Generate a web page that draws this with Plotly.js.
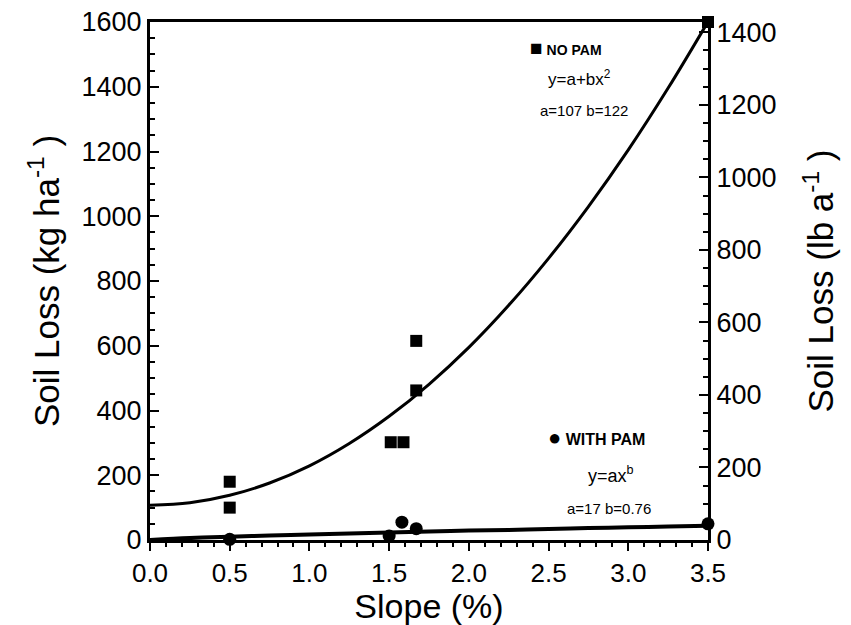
<!DOCTYPE html>
<html>
<head>
<meta charset="utf-8">
<script src="https://cdn.plot.ly/plotly-3.0.1.min.js"></script>
<style>body{margin:0;background:#fff}#plot{width:851px;height:625px}</style>
</head>
<body>
<div id="plot"></div>
<script>
// Fitted curves
var curveX = [0.0, 0.25, 0.5, 0.75, 1.0, 1.25, 1.5, 1.75, 2.0, 2.25, 2.5, 2.75, 3.0, 3.25, 3.5];
var noPamCurve = [107, 115, 138, 176, 229, 298, 382, 481, 595, 725, 870, 1030, 1205, 1396, 1601];
var withPamCurve = [0, 6, 10, 14, 17, 20, 23, 26, 29, 31, 34, 37, 39, 42, 44];

// Observed points
var noPamX = [0.5, 0.5, 1.51, 1.59, 1.67, 1.67, 3.5];
var noPamY = [180, 100, 302, 302, 615, 462, 1600];
var withPamX = [0.5, 1.5, 1.58, 1.67, 3.5];
var withPamY = [2, 12, 55, 35, 50];

var xTicks = [0, 0.5, 1.0, 1.5, 2.0, 2.5, 3.0, 3.5];
var xTickText = ['0.0', '0.5', '1.0', '1.5', '2.0', '2.5', '3.0', '3.5'];
var kgPerLb = 1.12;

var font = 'Liberation Sans, Arial, sans-serif';

var traces = [
  {x: curveX, y: noPamCurve, mode: 'lines', line: {color: '#000', width: 3, shape: 'spline'}, hoverinfo: 'skip'},
  {x: curveX, y: withPamCurve, mode: 'lines', line: {color: '#000', width: 4, shape: 'spline'}, hoverinfo: 'skip'},
  {x: noPamX, y: noPamY, mode: 'markers', marker: {symbol: 'square', size: 12, color: '#000'}, cliponaxis: false},
  {x: withPamX, y: withPamY, mode: 'markers', marker: {symbol: 'circle', size: 13, color: '#000'}, cliponaxis: false},
  {x: [3.5], y: [0], yaxis: 'y2', mode: 'markers', marker: {opacity: 0}, hoverinfo: 'skip'}
];

// pixel helpers for annotation placement inside plot area (l=150..708, t=22..540)
function px(x) { return (x - 150) / 558; }
function py(y) { return (540 - y) / 518; }

var layout = {
  width: 851, height: 625,
  margin: {l: 150, r: 143, t: 22, b: 85},
  paper_bgcolor: '#fff', plot_bgcolor: '#fff',
  showlegend: false,
  font: {family: font, color: '#000'},
  xaxis: {
    range: [0, 3.5], showgrid: false, zeroline: false,
    showline: true, linewidth: 3, linecolor: '#000', mirror: true,
    ticks: 'outside', ticklen: 8, tickwidth: 2, tickcolor: '#000',
    tickvals: xTicks, ticktext: xTickText,
    tickfont: {size: 26, family: font},
    minor: {dtick: 0.1, ticks: 'outside', ticklen: 4, tickwidth: 2, tickcolor: '#000', showgrid: false},
    title: {text: 'Slope (%)', font: {size: 34, family: font}, standoff: 12}
  },
  yaxis: {
    range: [0, 1600], showgrid: false, zeroline: false,
    showline: true, linewidth: 3, linecolor: '#000',
    ticks: 'inside', ticklen: 9, tickwidth: 2, tickcolor: '#000',
    dtick: 200, tickfont: {size: 27, family: font},
    minor: {dtick: 50, ticks: 'inside', ticklen: 5, tickwidth: 2, tickcolor: '#000', showgrid: false},
    title: {text: 'Soil Loss (kg ha<sup>-1</sup> )', font: {size: 35, family: font}, standoff: 12}
  },
  yaxis2: {
    overlaying: 'y', side: 'right',
    range: [0, 1600 / kgPerLb], showgrid: false, zeroline: false,
    showline: true, linewidth: 3, linecolor: '#000',
    ticks: 'inside', ticklen: 9, tickwidth: 2, tickcolor: '#000',
    dtick: 200, tickfont: {size: 27, family: font},
    minor: {dtick: 50, ticks: 'inside', ticklen: 5, tickwidth: 2, tickcolor: '#000', showgrid: false},
    title: {text: 'Soil Loss (lb a<sup>-1</sup> )', font: {size: 35, family: font}, standoff: 34}
  },
  annotations: [
    {xref: 'paper', yref: 'paper', x: px(528), y: py(47), xanchor: 'left', yanchor: 'middle', text: '<b><span style="font-size:21px">■</span> NO PAM</b>', showarrow: false, font: {size: 14, family: font}},
    {xref: 'paper', yref: 'paper', x: px(546), y: py(78), xanchor: 'left', yanchor: 'middle', text: 'y=a+bx<sup>2</sup>', showarrow: false, font: {size: 17, family: font}},
    {xref: 'paper', yref: 'paper', x: px(538), y: py(110), xanchor: 'left', yanchor: 'middle', text: 'a=107 b=122', showarrow: false, font: {size: 15, family: font}},
    {xref: 'paper', yref: 'paper', x: px(546), y: py(437), xanchor: 'left', yanchor: 'middle', text: '<b><span style="font-size:22px">●</span> WITH PAM</b>', showarrow: false, font: {size: 16, family: font}},
    {xref: 'paper', yref: 'paper', x: px(586), y: py(474), xanchor: 'left', yanchor: 'middle', text: 'y=ax<sup>b</sup>', showarrow: false, font: {size: 18, family: font}},
    {xref: 'paper', yref: 'paper', x: px(565), y: py(508), xanchor: 'left', yanchor: 'middle', text: 'a=17 b=0.76', showarrow: false, font: {size: 15, family: font}}
  ]
};

Plotly.newPlot('plot', traces, layout, {displayModeBar: false, staticPlot: true});
</script>
</body>
</html>
